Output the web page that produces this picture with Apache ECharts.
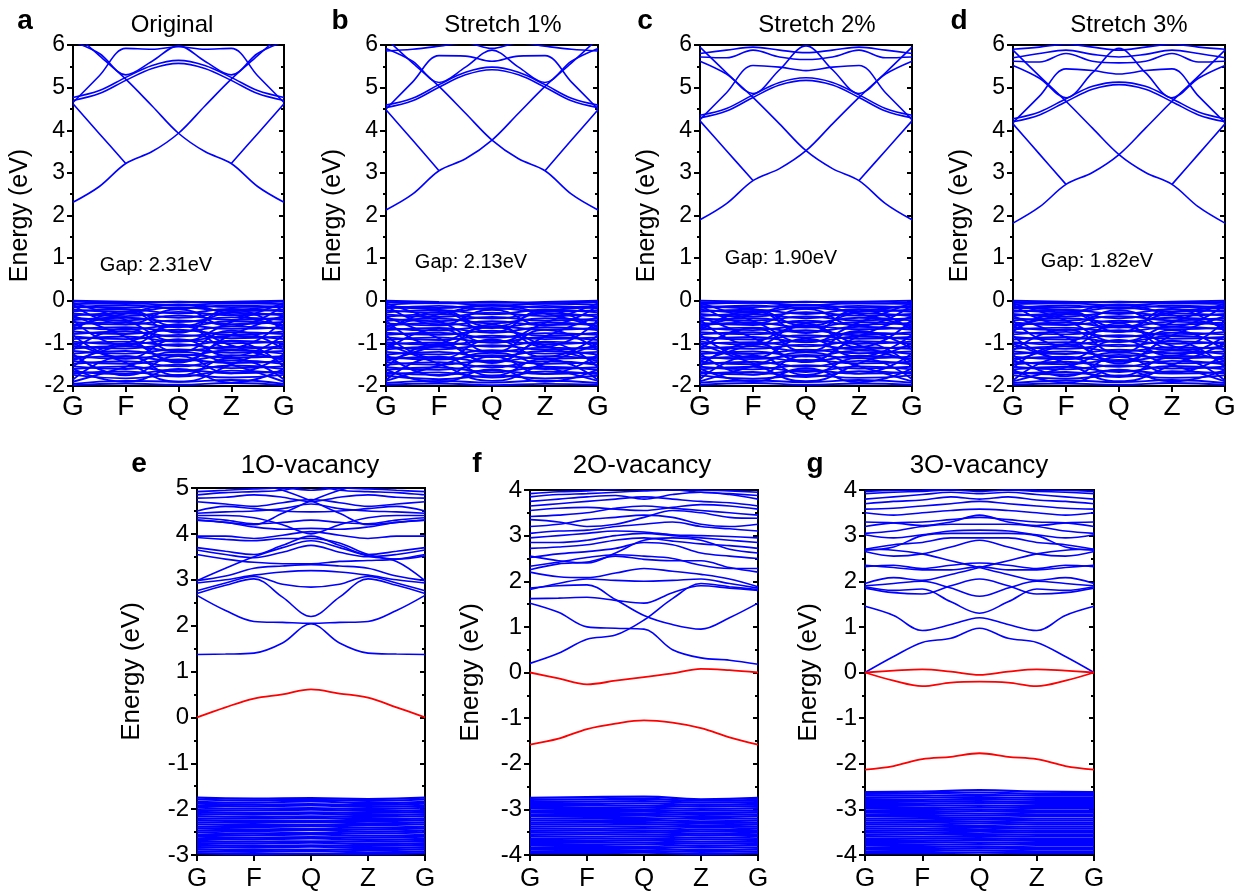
<!DOCTYPE html>
<html><head><meta charset="utf-8">
<script src="https://cdn.jsdelivr.net/npm/echarts@6/dist/echarts.min.js"></script>
<style>html,body{margin:0;padding:0;background:#fff}#c{width:1239px;height:892px}</style>
</head><body><div id="c"></div>
<script>
// ---------------- DATA ----------------
const K_LABELS = ['G','F','Q','Z','G'];
const LETTERS = ['a','b','c','d','e','f','g'];
const TITLES = ['Original','Stretch 1%','Stretch 2%','Stretch 3%','1O-vacancy','2O-vacancy','3O-vacancy'];
const GAP_LABELS = ['Gap: 2.31eV','Gap: 2.13eV','Gap: 1.90eV','Gap: 1.82eV'];
const Y_RANGES = [[-2,6],[-2,6],[-2,6],[-2,6],[-3,5],[-4,4],[-4,4]];

// conduction bands, sampled at G, .5, F, .5, Q, .5, Z, .5, G
const aCond = [
[2.31,2.68,3.22,3.50,3.93,4.57,5.20,5.75,6.30],
[6.30,5.75,5.20,4.57,3.93,3.50,3.22,2.68,2.31],
[4.62,3.92,3.22,null,null,null,3.22,3.92,4.62],
[4.70,4.86,5.17,5.45,5.57,5.45,5.17,4.86,4.70],
[4.77,4.93,5.24,5.52,5.64,5.52,5.24,4.93,4.77],
[4.65,5.28,5.92,5.90,5.96,5.90,5.92,5.28,4.65],
[6.08,5.80,5.30,5.62,5.98,5.62,5.30,5.80,6.08]
];
const bCond = [
[2.13,2.50,3.05,3.33,3.77,4.40,5.03,5.58,6.15],
[6.15,5.58,5.03,4.40,3.77,3.33,3.05,2.50,2.13],
[4.48,3.77,3.05,null,null,null,3.05,3.77,4.48],
[4.53,4.69,5.01,5.30,5.42,5.30,5.01,4.69,4.53],
[4.59,4.75,5.07,5.36,5.48,5.36,5.07,4.75,4.59],
[4.50,5.13,5.75,5.74,5.62,5.74,5.75,5.13,4.50],
[5.92,5.62,5.12,5.48,5.88,5.48,5.12,5.62,5.92],
[5.86,5.90,5.97,6.05,5.92,6.05,5.97,5.90,5.86]
];
const cCond = [
[1.90,2.28,2.82,3.10,3.52,4.15,4.77,5.35,5.95],
[5.95,5.35,4.77,4.15,3.52,3.10,2.82,2.28,1.90],
[4.22,3.52,2.82,null,null,null,2.82,3.52,4.22],
[4.29,4.45,4.77,5.06,5.17,5.06,4.77,4.45,4.29],
[4.35,4.51,4.83,5.12,5.23,5.12,4.83,4.51,4.35],
[4.25,4.88,5.52,5.48,5.40,5.48,5.52,4.88,4.25],
[5.62,5.32,4.86,5.42,5.98,5.42,4.86,5.32,5.62],
[5.72,5.70,5.88,5.72,5.66,5.72,5.88,5.70,5.72],
[5.80,5.88,5.95,5.88,5.82,5.88,5.95,5.88,5.80]
];
const dCond = [
[1.82,2.20,2.73,3.01,3.43,4.05,4.68,5.27,5.88],
[5.88,5.27,4.68,4.05,3.43,3.01,2.73,2.20,1.82],
[4.15,3.44,2.73,null,null,null,2.73,3.44,4.15],
[4.20,4.36,4.67,4.96,5.07,4.96,4.67,4.36,4.20],
[4.27,4.43,4.74,5.03,5.13,5.03,4.74,4.43,4.27],
[4.18,4.80,5.44,5.40,5.32,5.40,5.44,4.80,4.18],
[5.52,5.22,4.76,5.35,5.92,5.35,4.76,5.22,5.52],
[5.62,5.60,5.80,5.62,5.58,5.62,5.80,5.60,5.62],
[5.70,5.80,5.88,5.78,5.72,5.78,5.88,5.80,5.70],
[5.90,5.95,6.02,5.95,5.88,5.95,6.02,5.95,5.90]
];

// valence bands, sampled at G, F, Q, Z, G
const aVal = [
[0.00,-0.02,-0.04,-0.02,0.00],[-0.02,-0.05,-0.02,-0.05,-0.02],[-0.08,-0.06,-0.10,-0.06,-0.08],
[-0.12,-0.16,-0.09,-0.15,-0.12],[-0.16,-0.10,-0.18,-0.11,-0.16],[-0.21,-0.26,-0.15,-0.24,-0.21],
[-0.25,-0.20,-0.30,-0.19,-0.25],[-0.30,-0.36,-0.26,-0.34,-0.30],[-0.34,-0.30,-0.40,-0.28,-0.34],
[-0.40,-0.46,-0.35,-0.45,-0.40],[-0.45,-0.40,-0.50,-0.39,-0.45],[-0.50,-0.56,-0.46,-0.55,-0.50],
[-0.56,-0.50,-0.62,-0.48,-0.56],[-0.62,-0.68,-0.57,-0.66,-0.62],[-0.66,-0.62,-0.72,-0.60,-0.66],
[-0.72,-0.78,-0.68,-0.80,-0.72],[-0.78,-0.72,-0.84,-0.74,-0.78],[-0.84,-0.90,-0.80,-0.88,-0.84],
[-0.90,-0.84,-0.96,-0.82,-0.90],[-0.96,-1.02,-0.92,-1.00,-0.96],[-1.00,-0.96,-1.06,-0.94,-1.00],
[-1.06,-1.12,-1.02,-1.14,-1.06],[-1.12,-1.06,-1.18,-1.08,-1.12],[-1.18,-1.24,-1.14,-1.22,-1.18],
[-1.24,-1.18,-1.30,-1.16,-1.24],[-1.30,-1.36,-1.26,-1.34,-1.30],[-1.35,-1.30,-1.42,-1.28,-1.35],
[-1.42,-1.48,-1.38,-1.46,-1.42],[-1.48,-1.42,-1.54,-1.40,-1.48],[-1.54,-1.60,-1.50,-1.58,-1.54],
[-1.60,-1.54,-1.66,-1.52,-1.60],[-1.66,-1.72,-1.62,-1.70,-1.66],[-1.70,-1.66,-1.78,-1.64,-1.70],
[-1.74,-1.82,-1.74,-1.80,-1.74],[-1.95,-1.88,-1.90,-1.86,-1.95],[-1.98,-1.94,-1.97,-1.93,-1.98],
[-0.05,-0.45,-0.95,-0.50,-0.05],[-0.60,-0.30,-0.10,-0.32,-0.60],[-0.35,-0.85,-1.40,-0.80,-0.35],
[-1.40,-1.00,-0.60,-1.05,-1.40],[-1.00,-1.45,-1.90,-1.50,-1.00],[-1.90,-1.55,-1.20,-1.50,-1.90],
[-0.10,-0.55,-0.20,-0.60,-0.10],[-0.70,-0.25,-0.75,-0.20,-0.70],[-0.45,-1.05,-0.55,-1.10,-0.45],
[-1.15,-0.65,-1.20,-0.70,-1.15],[-0.80,-1.35,-0.90,-1.30,-0.80],[-1.55,-1.00,-1.45,-0.95,-1.55],
[-1.25,-1.75,-1.30,-1.70,-1.25],[-1.85,-1.30,-1.75,-1.35,-1.85],[-0.15,-0.20,-0.60,-0.25,-0.15],
[-1.60,-1.90,-1.60,-1.92,-1.60]
];
const bVal = [
[0.00,-0.03,-0.05,-0.03,0.00],[-0.03,-0.06,-0.02,-0.06,-0.03],[-0.09,-0.05,-0.11,-0.07,-0.09],
[-0.13,-0.17,-0.10,-0.16,-0.13],[-0.18,-0.12,-0.20,-0.12,-0.18],[-0.22,-0.28,-0.17,-0.26,-0.22],
[-0.27,-0.22,-0.32,-0.21,-0.27],[-0.32,-0.38,-0.28,-0.36,-0.32],[-0.37,-0.32,-0.42,-0.30,-0.37],
[-0.42,-0.48,-0.38,-0.47,-0.42],[-0.47,-0.42,-0.53,-0.41,-0.47],[-0.53,-0.58,-0.48,-0.57,-0.53],
[-0.58,-0.52,-0.64,-0.51,-0.58],[-0.64,-0.70,-0.60,-0.68,-0.64],[-0.69,-0.64,-0.75,-0.62,-0.69],
[-0.75,-0.80,-0.70,-0.82,-0.75],[-0.80,-0.75,-0.87,-0.76,-0.80],[-0.86,-0.92,-0.82,-0.90,-0.86],
[-0.92,-0.86,-0.98,-0.85,-0.92],[-0.97,-1.04,-0.94,-1.02,-0.97],[-1.02,-0.98,-1.08,-0.96,-1.02],
[-1.08,-1.14,-1.04,-1.15,-1.08],[-1.14,-1.08,-1.20,-1.10,-1.14],[-1.20,-1.26,-1.16,-1.24,-1.20],
[-1.26,-1.20,-1.32,-1.18,-1.26],[-1.32,-1.38,-1.28,-1.36,-1.32],[-1.37,-1.32,-1.44,-1.30,-1.37],
[-1.44,-1.50,-1.40,-1.48,-1.44],[-1.50,-1.44,-1.56,-1.42,-1.50],[-1.56,-1.62,-1.52,-1.60,-1.56],
[-1.62,-1.56,-1.68,-1.55,-1.62],[-1.68,-1.74,-1.64,-1.72,-1.68],[-1.72,-1.68,-1.80,-1.66,-1.72],
[-1.76,-1.84,-1.76,-1.82,-1.76],[-1.93,-1.88,-1.92,-1.87,-1.93],[-1.97,-1.94,-1.98,-1.95,-1.97],
[-0.06,-0.48,-0.98,-0.52,-0.06],[-0.62,-0.32,-0.12,-0.30,-0.62],[-0.38,-0.88,-1.42,-0.84,-0.38],
[-1.42,-1.02,-0.62,-1.06,-1.42],[-1.02,-1.48,-1.88,-1.46,-1.02],[-1.88,-1.52,-1.22,-1.55,-1.88],
[-0.11,-0.56,-0.21,-0.58,-0.11],[-0.71,-0.26,-0.74,-0.22,-0.71],[-0.46,-1.06,-0.56,-1.08,-0.46],
[-1.16,-0.66,-1.21,-0.68,-1.16],[-0.81,-1.36,-0.91,-1.32,-0.81],[-1.56,-1.01,-1.46,-0.97,-1.56],
[-1.26,-1.76,-1.31,-1.72,-1.26],[-1.86,-1.31,-1.76,-1.36,-1.86],[-0.16,-0.21,-0.61,-0.24,-0.16],
[-1.61,-1.91,-1.61,-1.90,-1.61]
];
const cVal = [
[0.00,-0.02,-0.03,-0.02,0.00],[-0.04,-0.05,-0.02,-0.06,-0.04],[-0.08,-0.05,-0.10,-0.06,-0.08],
[-0.12,-0.15,-0.09,-0.16,-0.12],[-0.17,-0.11,-0.19,-0.12,-0.17],[-0.21,-0.27,-0.16,-0.25,-0.21],
[-0.26,-0.21,-0.31,-0.20,-0.26],[-0.31,-0.37,-0.27,-0.35,-0.31],[-0.36,-0.31,-0.41,-0.29,-0.36],
[-0.41,-0.47,-0.37,-0.46,-0.41],[-0.46,-0.41,-0.52,-0.40,-0.46],[-0.52,-0.57,-0.47,-0.56,-0.52],
[-0.57,-0.51,-0.63,-0.50,-0.57],[-0.63,-0.69,-0.59,-0.67,-0.63],[-0.68,-0.63,-0.74,-0.61,-0.68],
[-0.74,-0.79,-0.69,-0.81,-0.74],[-0.79,-0.74,-0.86,-0.75,-0.79],[-0.85,-0.91,-0.81,-0.89,-0.85],
[-0.91,-0.85,-0.97,-0.84,-0.91],[-0.96,-1.03,-0.93,-1.01,-0.96],[-1.01,-0.97,-1.07,-0.95,-1.01],
[-1.07,-1.13,-1.03,-1.14,-1.07],[-1.13,-1.07,-1.19,-1.09,-1.13],[-1.19,-1.25,-1.15,-1.23,-1.19],
[-1.25,-1.19,-1.31,-1.17,-1.25],[-1.31,-1.37,-1.27,-1.35,-1.31],[-1.36,-1.31,-1.43,-1.29,-1.36],
[-1.43,-1.49,-1.39,-1.47,-1.43],[-1.49,-1.43,-1.55,-1.41,-1.49],[-1.55,-1.61,-1.51,-1.59,-1.55],
[-1.61,-1.55,-1.67,-1.54,-1.61],[-1.67,-1.73,-1.63,-1.71,-1.67],[-1.71,-1.67,-1.79,-1.65,-1.71],
[-1.75,-1.83,-1.75,-1.81,-1.75],[-1.92,-1.87,-1.91,-1.86,-1.92],[-1.97,-1.93,-1.97,-1.94,-1.97],
[-0.05,-0.47,-0.97,-0.51,-0.05],[-0.61,-0.31,-0.11,-0.31,-0.61],[-0.37,-0.87,-1.41,-0.83,-0.37],
[-1.41,-1.01,-0.61,-1.05,-1.41],[-1.01,-1.47,-1.89,-1.47,-1.01],[-1.89,-1.53,-1.21,-1.54,-1.89],
[-0.10,-0.54,-0.19,-0.59,-0.10],[-0.69,-0.24,-0.76,-0.21,-0.69],[-0.44,-1.04,-0.54,-1.09,-0.44],
[-1.14,-0.64,-1.19,-0.71,-1.14],[-0.79,-1.34,-0.89,-1.31,-0.79],[-1.54,-0.99,-1.44,-0.96,-1.54],
[-1.24,-1.74,-1.29,-1.71,-1.24],[-1.84,-1.29,-1.74,-1.34,-1.84],[-0.14,-0.19,-0.59,-0.26,-0.14],
[-1.59,-1.89,-1.59,-1.91,-1.59]
];
const dVal = [
[0.00,-0.02,-0.04,-0.02,0.00],[-0.03,-0.05,-0.02,-0.05,-0.03],[-0.08,-0.06,-0.11,-0.06,-0.08],
[-0.13,-0.16,-0.09,-0.15,-0.13],[-0.17,-0.11,-0.19,-0.11,-0.17],[-0.22,-0.27,-0.16,-0.25,-0.22],
[-0.26,-0.21,-0.31,-0.20,-0.26],[-0.31,-0.37,-0.27,-0.35,-0.31],[-0.35,-0.31,-0.41,-0.29,-0.35],
[-0.41,-0.47,-0.36,-0.46,-0.41],[-0.46,-0.41,-0.51,-0.40,-0.46],[-0.51,-0.57,-0.47,-0.56,-0.51],
[-0.57,-0.51,-0.63,-0.49,-0.57],[-0.63,-0.69,-0.58,-0.67,-0.63],[-0.67,-0.63,-0.73,-0.61,-0.67],
[-0.73,-0.79,-0.69,-0.81,-0.73],[-0.79,-0.73,-0.85,-0.75,-0.79],[-0.85,-0.91,-0.81,-0.89,-0.85],
[-0.91,-0.85,-0.97,-0.83,-0.91],[-0.97,-1.03,-0.93,-1.01,-0.97],[-1.01,-0.97,-1.07,-0.95,-1.01],
[-1.07,-1.13,-1.03,-1.15,-1.07],[-1.13,-1.07,-1.19,-1.09,-1.13],[-1.19,-1.25,-1.15,-1.23,-1.19],
[-1.25,-1.19,-1.31,-1.17,-1.25],[-1.31,-1.37,-1.27,-1.35,-1.31],[-1.36,-1.31,-1.43,-1.29,-1.36],
[-1.43,-1.49,-1.39,-1.47,-1.43],[-1.49,-1.43,-1.55,-1.41,-1.49],[-1.55,-1.61,-1.51,-1.59,-1.55],
[-1.61,-1.55,-1.67,-1.53,-1.61],[-1.67,-1.73,-1.63,-1.71,-1.67],[-1.71,-1.67,-1.79,-1.65,-1.71],
[-1.75,-1.83,-1.75,-1.81,-1.75],[-1.93,-1.87,-1.91,-1.86,-1.93],[-1.97,-1.94,-1.97,-1.93,-1.97],
[-0.06,-0.46,-0.96,-0.51,-0.06],[-0.61,-0.31,-0.11,-0.33,-0.61],[-0.36,-0.86,-1.41,-0.81,-0.36],
[-1.41,-1.01,-0.61,-1.06,-1.41],[-1.01,-1.46,-1.89,-1.51,-1.01],[-1.89,-1.56,-1.21,-1.51,-1.89],
[-0.09,-0.56,-0.22,-0.61,-0.09],[-0.72,-0.27,-0.73,-0.19,-0.72],[-0.47,-1.07,-0.53,-1.11,-0.47],
[-1.17,-0.67,-1.22,-0.69,-1.17],[-0.82,-1.37,-0.92,-1.29,-0.82],[-1.57,-1.02,-1.47,-0.94,-1.57],
[-1.27,-1.77,-1.32,-1.69,-1.27],[-1.87,-1.32,-1.77,-1.33,-1.87],[-0.17,-0.22,-0.62,-0.27,-0.17],
[-1.62,-1.92,-1.62,-1.89,-1.62]
];

// defect panels: red defect bands, blue conduction and valence bands
const eRed = [[0.00,0.22,0.41,0.50,0.61,0.52,0.43,0.22,0.00]];
const eCond = [
[1.37,1.38,1.40,1.62,2.04,1.62,1.40,1.38,1.37],
[2.66,2.33,2.09,2.07,2.05,2.07,2.09,2.33,2.66],
[2.70,2.88,3.02,2.62,2.20,2.62,3.02,2.88,2.70],
[2.76,2.93,3.07,2.90,2.84,2.90,3.07,2.93,2.76],
[2.93,3.00,3.10,3.17,3.20,3.17,3.10,3.00,2.93],
[2.98,3.08,3.25,3.30,3.33,3.30,3.25,3.08,2.98],
[3.55,3.45,3.38,3.35,3.35,3.40,3.42,3.45,3.55],
[2.98,3.25,3.50,3.70,3.85,3.70,3.52,3.40,2.98],
[3.65,3.55,3.48,3.60,3.75,3.60,3.50,3.55,3.65],
[3.70,3.62,3.55,3.75,3.95,3.75,3.55,3.62,3.70],
[3.92,3.88,3.85,3.90,3.90,3.80,3.55,3.45,3.52],
[3.95,3.95,3.90,3.97,4.05,3.97,3.90,3.95,3.95],
[4.30,4.25,4.15,4.10,4.12,4.10,4.15,4.25,4.30],
[4.35,4.30,4.22,4.25,4.30,4.25,4.22,4.30,4.35],
[4.40,4.40,4.35,4.20,4.00,4.20,4.35,4.40,4.40],
[4.45,4.48,4.50,4.55,4.65,4.55,4.50,4.48,4.45],
[4.50,4.60,4.55,4.50,4.48,4.50,4.55,4.60,4.50],
[4.70,4.65,4.60,4.68,4.75,4.68,4.60,4.65,4.70],
[4.78,4.80,4.85,4.80,4.70,4.80,4.85,4.80,4.78],
[4.85,4.90,4.92,4.95,5.05,4.95,4.92,4.90,4.85],
[4.92,4.95,4.98,5.00,4.95,5.00,4.98,4.95,4.92],
[4.30,4.25,4.20,4.45,4.72,4.95,5.10,5.20,5.30],
[5.30,5.20,5.10,4.95,4.72,4.45,4.20,4.25,4.30]
];
const eVal = [
[-1.75,-1.77,-1.76,-1.78,-1.75],[-1.79,-1.81,-1.80,-1.82,-1.79],[-1.84,-1.86,-1.83,-1.87,-1.84],
[-1.88,-1.90,-1.89,-1.91,-1.88],[-1.93,-1.94,-1.92,-1.95,-1.93],[-1.97,-1.99,-1.98,-2.00,-1.97],
[-2.02,-2.03,-2.01,-2.04,-2.02],[-2.06,-2.08,-2.07,-2.08,-2.06],[-2.11,-2.12,-2.10,-2.13,-2.11],
[-2.15,-2.17,-2.16,-2.17,-2.15],[-2.20,-2.21,-2.19,-2.22,-2.20],[-2.24,-2.26,-2.25,-2.26,-2.24],
[-2.29,-2.30,-2.28,-2.31,-2.29],[-2.33,-2.35,-2.34,-2.35,-2.33],[-2.38,-2.39,-2.37,-2.40,-2.38],
[-2.42,-2.44,-2.43,-2.44,-2.42],[-2.47,-2.48,-2.46,-2.49,-2.47],[-2.51,-2.53,-2.52,-2.53,-2.51],
[-2.56,-2.57,-2.55,-2.58,-2.56],[-2.60,-2.62,-2.61,-2.62,-2.60],[-2.65,-2.66,-2.64,-2.67,-2.65],
[-2.69,-2.71,-2.70,-2.71,-2.69],[-2.74,-2.75,-2.73,-2.76,-2.74],[-2.78,-2.80,-2.79,-2.80,-2.78],
[-2.83,-2.84,-2.82,-2.85,-2.83],[-2.87,-2.89,-2.88,-2.89,-2.87],[-2.92,-2.93,-2.91,-2.94,-2.92],
[-2.96,-2.98,-2.97,-2.98,-2.96]
];
const fRed = [
[0.00,-0.13,-0.26,-0.18,-0.10,-0.02,0.08,0.05,0.00],
[-1.58,-1.45,-1.24,-1.12,-1.05,-1.10,-1.22,-1.42,-1.58]
];
const fCond = [
[0.20,0.42,0.73,0.82,1.15,1.62,1.95,1.88,1.82],
[1.52,1.32,1.00,0.97,0.95,0.50,0.32,0.27,0.18],
[1.62,1.63,1.65,1.58,1.52,1.75,1.90,1.85,1.80],
[1.85,1.90,1.92,1.60,1.25,1.05,0.95,1.20,1.52],
[1.82,1.95,2.05,2.02,2.00,2.02,2.05,1.95,1.85],
[2.20,2.10,2.08,2.18,2.28,2.22,2.15,2.05,1.88],
[2.25,2.38,2.42,2.55,2.48,2.45,2.45,2.30,2.20],
[2.33,2.42,2.52,2.58,2.55,2.50,2.35,2.28,2.28],
[2.52,2.60,2.65,2.72,2.85,2.80,2.62,2.55,2.50],
[2.55,2.45,2.40,2.62,2.90,2.95,2.90,2.70,2.62],
[2.72,2.75,2.80,2.90,2.95,2.88,2.82,2.78,2.72],
[2.85,2.85,2.90,3.00,3.05,3.00,2.95,2.90,2.85],
[2.95,3.00,3.05,3.10,3.08,3.02,3.00,2.98,2.95],
[3.05,3.10,3.12,3.20,3.25,3.30,3.20,3.15,3.10],
[3.20,3.25,3.35,3.40,3.45,3.40,3.25,3.20,3.25],
[3.35,3.30,3.20,3.25,3.40,3.55,3.50,3.40,3.38],
[3.42,3.45,3.50,3.60,3.65,3.60,3.55,3.50,3.45],
[3.55,3.60,3.62,3.58,3.55,3.62,3.68,3.65,3.58],
[3.65,3.70,3.75,3.80,3.85,3.80,3.75,3.72,3.65],
[3.75,3.80,3.85,3.88,3.80,3.90,3.95,3.90,3.80],
[3.85,3.90,3.92,3.95,3.98,4.00,3.95,3.92,3.88],
[3.92,3.96,3.98,4.02,4.05,4.05,4.00,3.98,3.95]
];
const fVal = [
[-2.75,-2.73,-2.72,-2.78,-2.75],[-2.79,-2.78,-2.77,-2.81,-2.79],[-2.84,-2.83,-2.82,-2.85,-2.84],
[-2.88,-2.88,-2.87,-2.90,-2.88],[-2.93,-2.92,-2.92,-2.94,-2.93],[-2.97,-2.97,-2.96,-2.99,-2.97],
[-3.02,-3.01,-3.01,-3.03,-3.02],[-3.06,-3.06,-3.05,-3.08,-3.06],[-3.11,-3.10,-3.10,-3.12,-3.11],
[-3.15,-3.15,-3.14,-3.17,-3.15],[-3.20,-3.19,-3.19,-3.21,-3.20],[-3.24,-3.24,-3.23,-3.26,-3.24],
[-3.29,-3.28,-3.28,-3.30,-3.29],[-3.33,-3.33,-3.32,-3.35,-3.33],[-3.38,-3.37,-3.37,-3.39,-3.38],
[-3.42,-3.42,-3.41,-3.44,-3.42],[-3.47,-3.46,-3.46,-3.48,-3.47],[-3.51,-3.51,-3.50,-3.53,-3.51],
[-3.56,-3.55,-3.55,-3.57,-3.56],[-3.60,-3.60,-3.59,-3.62,-3.60],[-3.65,-3.64,-3.64,-3.66,-3.65],
[-3.69,-3.69,-3.68,-3.71,-3.69],[-3.74,-3.73,-3.73,-3.75,-3.74],[-3.78,-3.78,-3.77,-3.80,-3.78],
[-3.83,-3.82,-3.82,-3.84,-3.83],[-3.87,-3.87,-3.86,-3.89,-3.87],[-3.92,-3.91,-3.91,-3.93,-3.92],
[-3.96,-3.96,-3.95,-3.98,-3.96]
];
const gRed = [
[0.00,0.04,0.07,0.02,-0.05,0.02,0.07,0.04,0.00],
[0.00,-0.18,-0.30,-0.22,-0.20,-0.22,-0.30,-0.18,0.00],
[-2.13,-2.05,-1.90,-1.85,-1.77,-1.85,-1.90,-2.05,-2.13]
];
const gCond = [
[0.00,0.35,0.66,0.75,0.97,0.75,0.66,0.35,0.00],
[1.45,1.25,0.92,1.05,1.20,1.05,0.92,1.25,1.45],
[1.88,1.80,1.83,1.55,1.30,1.55,1.83,1.80,1.88],
[1.90,1.95,2.00,1.85,1.67,1.85,2.00,1.95,1.90],
[1.85,1.75,1.72,1.90,2.05,1.90,1.72,1.75,1.85],
[1.95,2.08,2.02,2.15,2.30,2.45,2.60,2.68,2.70],
[2.70,2.68,2.60,2.45,2.30,2.15,2.02,2.08,1.95],
[2.32,2.35,2.28,2.35,2.40,2.35,2.28,2.35,2.32],
[2.35,2.30,2.25,2.25,2.32,2.25,2.25,2.30,2.35],
[2.65,2.55,2.60,2.75,2.90,2.75,2.60,2.55,2.65],
[2.70,2.80,2.85,2.95,2.95,2.95,2.85,2.80,2.70],
[2.68,2.75,3.00,3.05,3.05,3.05,3.00,2.75,2.68],
[3.02,2.95,3.02,3.10,3.12,3.10,3.02,2.95,3.02],
[3.05,3.10,3.20,3.25,3.25,3.25,3.20,3.10,3.05],
[3.20,3.28,3.30,3.35,3.40,3.35,3.30,3.28,3.20],
[3.30,3.28,3.22,3.30,3.45,3.30,3.22,3.28,3.30],
[3.50,3.45,3.50,3.55,3.58,3.55,3.50,3.45,3.50],
[3.58,3.60,3.65,3.70,3.75,3.70,3.65,3.60,3.58],
[3.70,3.75,3.78,3.85,3.80,3.85,3.78,3.75,3.70],
[3.80,3.85,3.90,3.95,3.92,3.95,3.90,3.85,3.80],
[3.92,3.95,3.97,4.00,3.97,4.00,3.97,3.95,3.92],
[3.97,3.99,4.00,4.02,4.05,4.02,4.00,3.99,3.97]
];
const gVal = [
[-2.62,-2.61,-2.58,-2.61,-2.62],[-2.66,-2.65,-2.63,-2.66,-2.66],[-2.70,-2.70,-2.68,-2.70,-2.70],
[-2.75,-2.74,-2.73,-2.75,-2.75],[-2.79,-2.79,-2.77,-2.79,-2.79],[-2.84,-2.83,-2.82,-2.84,-2.84],
[-2.88,-2.88,-2.86,-2.88,-2.88],[-2.93,-2.92,-2.91,-2.93,-2.93],[-2.97,-2.97,-2.95,-2.97,-2.97],
[-3.02,-3.01,-3.00,-3.02,-3.02],[-3.06,-3.06,-3.04,-3.06,-3.06],[-3.11,-3.10,-3.09,-3.11,-3.11],
[-3.15,-3.15,-3.13,-3.15,-3.15],[-3.20,-3.19,-3.18,-3.20,-3.20],[-3.24,-3.24,-3.22,-3.24,-3.24],
[-3.29,-3.28,-3.27,-3.29,-3.29],[-3.33,-3.33,-3.31,-3.33,-3.33],[-3.38,-3.37,-3.36,-3.38,-3.38],
[-3.42,-3.42,-3.40,-3.42,-3.42],[-3.47,-3.46,-3.45,-3.47,-3.47],[-3.51,-3.51,-3.49,-3.51,-3.51],
[-3.56,-3.55,-3.54,-3.56,-3.56],[-3.60,-3.60,-3.58,-3.60,-3.60],[-3.65,-3.64,-3.63,-3.65,-3.65],
[-3.69,-3.69,-3.67,-3.69,-3.69],[-3.74,-3.73,-3.72,-3.74,-3.74],[-3.78,-3.78,-3.76,-3.78,-3.78],
[-3.83,-3.82,-3.81,-3.83,-3.83],[-3.87,-3.87,-3.85,-3.87,-3.87],[-3.92,-3.91,-3.90,-3.92,-3.92],
[-3.96,-3.96,-3.95,-3.96,-3.96]
];

// ---------------- LAYOUT / STYLE ----------------
const FONT = '"Liberation Sans", Arial, Helvetica, sans-serif';
const BLUE = '#0000ff', RED = '#ff0000';
const PANELS = [
  {grid:{left:73, top:45, width:211, height:341}, cond:aCond, val:aVal, red:[], top:true, nameGap:40, letterX:25, titleX:172, gapX:156, gapY:265},
  {grid:{left:386, top:45, width:212, height:341}, cond:bCond, val:bVal, red:[], top:true, nameGap:40, letterX:340, titleX:503, gapX:471, gapY:262},
  {grid:{left:700, top:45, width:212, height:341}, cond:cCond, val:cVal, red:[], top:true, nameGap:40, letterX:645, titleX:817, gapX:781, gapY:258},
  {grid:{left:1013, top:45, width:212, height:341}, cond:dCond, val:dVal, red:[], top:true, nameGap:40, letterX:959, titleX:1129, gapX:1097, gapY:261},
  {grid:{left:197, top:488, width:228, height:368}, cond:eCond, val:eVal, red:eRed, top:false, nameGap:52, letterX:139, titleX:310},
  {grid:{left:530, top:490, width:228, height:368}, cond:fCond, val:fVal, red:fRed, top:false, nameGap:46, letterX:477, titleX:642},
  {grid:{left:865, top:490, width:229, height:368}, cond:gCond, val:gVal, red:gRed, top:false, nameGap:43, letterX:815, titleX:979}
];

function kpts(arr){ const n = arr.length; return arr.map((v,i)=>[i*4/(n-1), v]); }

const grids=[], xAxes=[], yAxes=[], series=[], graphics=[];
PANELS.forEach((p, pi) => {
  const [ymin, ymax] = Y_RANGES[pi];
  grids.push(Object.assign({show:true, borderColor:'#000', borderWidth:2, backgroundColor:'transparent'}, p.grid));
  const xFont = p.top ? 28 : 26, yFont = p.top ? 23 : 24;
  xAxes.push({gridIndex:pi, type:'value', min:0, max:4, interval:1,
    axisLine:{show:true, onZero:false, lineStyle:{color:'#000', width:2}},
    axisTick:{show:true, inside:false, length:6, lineStyle:{color:'#000', width:2}},
    axisLabel:{formatter:(v)=>K_LABELS[Math.round(v)], fontSize:xFont, color:'#000', fontFamily:FONT, margin:p.top?7:11},
    splitLine:{show:false}});
  yAxes.push({gridIndex:pi, type:'value', min:ymin, max:ymax, interval:1, position:'left',
    axisLine:{show:true, onZero:false, lineStyle:{color:'#000', width:2}},
    axisTick:{show:true, inside:false, length:6, lineStyle:{color:'#000', width:2}},
    minorTick:{show:true, splitNumber:2, length:3, lineStyle:{color:'#000', width:2}},
    axisLabel:{fontSize:yFont, color:'#000', fontFamily:FONT, margin:8},
    splitLine:{show:false}, minorSplitLine:{show:false},
    name:'Energy (eV)', nameLocation:'middle', nameGap:p.nameGap,
    nameTextStyle:{fontSize:p.top?25:26, color:'#000', fontFamily:FONT}});
  yAxes.push({gridIndex:pi, type:'value', min:ymin, max:ymax, interval:1, position:'right',
    axisLine:{show:true, onZero:false, lineStyle:{color:'#000', width:2}},
    axisTick:{show:true, inside:true, length:5, lineStyle:{color:'#000', width:2}},
    minorTick:{show:true, splitNumber:2, length:3, lineStyle:{color:'#000', width:2}},
    axisLabel:{show:false}, splitLine:{show:false}, minorSplitLine:{show:false}});
  const yIdx = pi*2;
  const addBands = (bands, color, width, smooth) => bands.forEach(b => series.push({
    type:'line', xAxisIndex:pi, yAxisIndex:yIdx, data:kpts(b), smooth:smooth,
    symbol:'none', showSymbol:false, silent:true, animation:false, clip:true, connectNulls:false,
    lineStyle:{color:color, width:width}}));
  addBands(p.val, BLUE, p.top?1.9:2.2, 0.5);
  addBands(p.cond, BLUE, 1.6, 0.35);
  addBands(p.red, RED, 1.8, 0.35);
  const base = p.top ? 0 : 443;
  graphics.push({type:'text', x:p.letterX, y:base+21, style:{text:LETTERS[pi], font:'bold 28px '+FONT, fill:'#000', textAlign:'center', textVerticalAlign:'middle'}});
  graphics.push({type:'text', x:p.titleX, y:base+(p.top?25.5:23), style:{text:TITLES[pi], font:(p.top?24:26)+'px '+FONT, fill:'#000', textAlign:'center', textVerticalAlign:'middle'}});
  if (p.top) graphics.push({type:'text', x:p.gapX, y:p.gapY, style:{text:GAP_LABELS[pi], font:'20px '+FONT, fill:'#000', textAlign:'center', textVerticalAlign:'middle'}});
});

const chart = echarts.init(document.getElementById('c'), null, {renderer:'canvas'});
chart.setOption({animation:false, backgroundColor:'#fff', grid:grids, xAxis:xAxes, yAxis:yAxes, series:series, graphic:graphics});
</script></body></html>
